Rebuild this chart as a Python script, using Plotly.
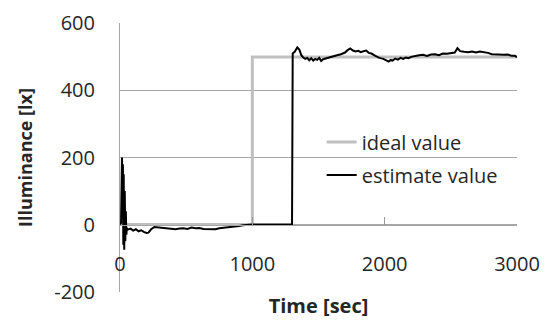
import plotly.graph_objects as go

# Ideal value (step)
ideal_t = [0, 1000, 1000, 3000]
ideal_v = [0, 0, 500, 500]

# Estimated value
est_t = [0, 8, 15, 18, 22, 25, 28, 32, 36, 40, 44, 48, 52, 60, 80, 100, 120, 140, 160, 180,
         200, 215, 235, 260, 285, 310, 335, 360, 390, 420, 450, 480, 510, 540, 570, 600,
         630, 660, 690, 720, 750, 780, 810, 840, 870, 900, 930, 960, 1000, 1300,
         1305, 1320, 1340, 1355, 1370, 1385, 1400, 1415, 1430, 1445, 1460, 1475, 1490,
         1505, 1520, 1535, 1550, 1580, 1610, 1640, 1670, 1700, 1720, 1740, 1760, 1780,
         1800, 1820, 1840, 1860, 1880, 1900, 1930, 1960, 1990, 2010, 2030, 2045, 2060,
         2080, 2100, 2120, 2140, 2160, 2180, 2200, 2230, 2260, 2290, 2320, 2350, 2380,
         2410, 2440, 2470, 2500, 2530, 2550, 2570, 2600, 2630, 2660, 2690, 2720, 2750,
         2780, 2810, 2840, 2870, 2900, 2930, 2960, 2985, 3000]
est_v = [0, 5, 200, 60, 180, -60, 150, -75, 100, -50, 40, -30, -10, -15, -12, -18, -14, -20, -17, -22,
         -25, -24, -14, -7, -8, -10, -9, -12, -13, -14, -12, -11, -13, -9, -11, -10,
         -13, -14, -15, -14, -11, -10, -9, -7, -6, -4, -2, -1, 0, 0,
         510, 515, 528, 522, 505, 498, 494, 497, 490, 496, 489, 494, 491,
         497, 488, 493, 495, 498, 502, 505, 508, 513, 520, 525, 519, 516,
         518, 514, 517, 519, 512, 510, 503, 497, 494, 490, 486, 491, 489,
         495, 492, 497, 494, 498, 496, 500, 503, 505, 506, 503, 507, 508,
         505, 510, 509, 512, 513, 526, 517, 515, 514, 516, 513, 516, 515,
         512, 508, 507, 508, 506, 507, 503, 503, 499]

x_ticks = [0, 1000, 2000, 3000]
x_tick_text = ["0", "1000", "2000", "3000"]
y_ticks = [-200, 0, 200, 400, 600]
y_tick_text = ["-200", "0", "200", "400", "600"]

FONT = "Open Sans"
GRID = "#a6a6a6"
Y_RANGE = [-201, 601]
x_axis_pos = (0 - Y_RANGE[0]) / (Y_RANGE[1] - Y_RANGE[0])

fig = go.Figure()
fig.add_trace(go.Scatter(x=ideal_t, y=ideal_v, mode="lines", name="ideal value",
                         line=dict(color="#bfbfbf", width=3), legendgroup="a"))
fig.add_trace(go.Scatter(x=est_t, y=est_v, mode="lines", name="estimate value",
                         line=dict(color="#000000", width=2), legendgroup="b"))

fig.update_layout(
    width=547, height=320,
    margin=dict(l=120, r=30, t=23, b=28, autoexpand=False),
    paper_bgcolor="white", plot_bgcolor="white",
    font=dict(family=FONT, size=20, color="#262626"),
    showlegend=True,
    legend=dict(x=0.508, y=0.63, xanchor="left", yanchor="top",
                bgcolor="rgba(0,0,0,0)", font=dict(size=20, color="#262626"),
                tracegroupgap=4, itemwidth=30),
    xaxis=dict(range=[0, 3000], tickvals=x_ticks, ticktext=x_tick_text,
               anchor="free", position=x_axis_pos, automargin=False,
               showline=True, linecolor=GRID, linewidth=1,
               ticks="inside", ticklen=8, tickcolor="#999999", tickwidth=1,
               showgrid=False, zeroline=False, ticklabelstandoff=21,
               title=dict(text="<b>Time [sec]</b>", standoff=23, font=dict(size=20))),
    yaxis=dict(range=Y_RANGE, tickvals=y_ticks, ticktext=y_tick_text, automargin=False,
               showline=True, linecolor=GRID,
               showgrid=True, gridcolor=GRID, gridwidth=1, zeroline=False,
               ticks="", ticklabelstandoff=20,
               title=dict(text="<b>Illuminance [lx]</b>", standoff=16, font=dict(size=18))),
)

fig.write_html("out.html", config={"displayModeBar": False},
               post_script="document.body.style.margin='0';")
